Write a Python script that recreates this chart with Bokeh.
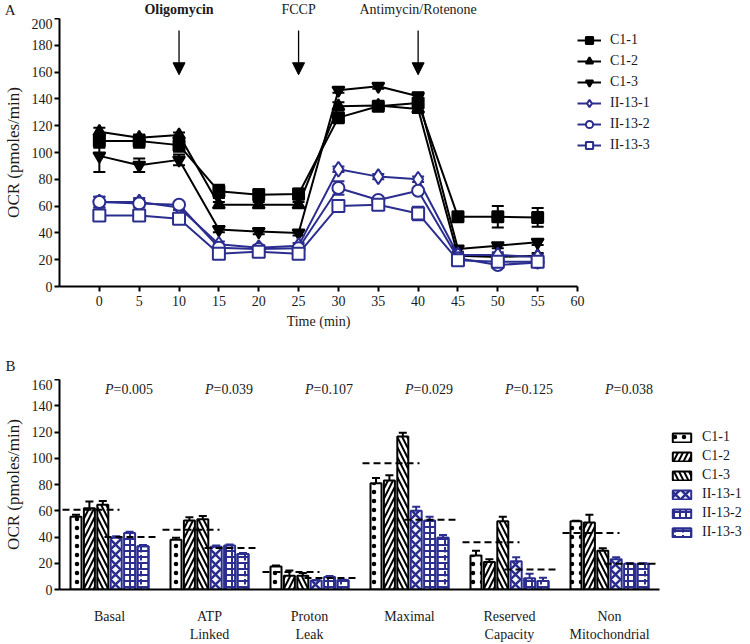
from bokeh.plotting import figure
from bokeh.models import (Range1d, FixedTicker, Legend, LegendItem, Whisker, TeeHead,
                          Arrow, NormalHead, ColumnDataSource)
from bokeh.layouts import column
from bokeh.embed import file_html
from bokeh.resources import INLINE
from bokeh.core.properties import value

FONT = "Liberation Serif"
BLUE = "#2b2e8e"
TXT = "#1a1a1a"

# ---------------- Panel A data ----------------
time_min = [0, 5, 10, 15, 20, 25, 30, 35, 40, 45, 50, 55]
series_names = ["C1-1", "C1-2", "C1-3", "II-13-1", "II-13-2", "II-13-3"]
ocr_c1_1 = [108.5, 108.5, 105.5, 71, 68.5, 69, 126, 134.5, 137, 52, 52, 51.5]
ocr_c1_2 = [115.5, 111, 113, 61, 61, 61, 134.5, 135, 132.5, 23, 22, 23]
ocr_c1_3 = [97.5, 90.5, 94.5, 42.5, 41, 40, 146.5, 149.5, 142, 28, 30.5, 33]
ocr_ii_1 = [63, 63, 59, 31.5, 29, 30.5, 87.5, 82, 80, 23.5, 23.5, 22]
ocr_ii_2 = [63, 62, 61, 29, 28, 28.5, 73.5, 64.5, 71.5, 21, 16, 18]
ocr_ii_3 = [53, 53, 50.5, 24.5, 26, 24.5, 60, 61, 54.5, 19.5, 18.5, 18.5]
err_c1_1 = [5, 5, 5, 5, 4, 4, 3, 2, 6, 3, 8, 7]
err_c1_2 = [3, 2, 2, 2, 2, 2, 3, 2, 3, 2, 2, 2]
err_c1_3 = [12, 5, 4, 2, 2, 2, 2, 2, 3, 2, 2, 2]
err_ii_1 = [4, 3, 2, 2, 2, 2, 2, 2, 2, 2, 2, 2]
err_ii_2 = [4, 3, 2, 2, 2, 2, 5, 2, 2, 2, 2, 2]
err_ii_3 = [2, 2, 2, 4, 2, 2, 3, 2, 5, 2, 2, 2]
injection_times = [10, 25, 40]
injection_labels = ["Oligomycin", "FCCP", "Antimycin/Rotenone"]
injection_styles = ["bold", "normal", "normal"]

# ---------------- Panel B data ----------------
categories = ["Basal", "ATP\nLinked", "Proton\nLeak", "Maximal", "Reserved\nCapacity", "Non\nMitochondrial"]
bar_c1_1 = [55.5, 38, 17.5, 81, 26, 52]
bar_c1_2 = [62, 52.5, 10.5, 83, 21, 51]
bar_c1_3 = [64.5, 53.5, 10.5, 116.5, 52, 29.5]
bar_ii_1 = [39.5, 32.5, 6.8, 60, 21.5, 23]
bar_ii_2 = [43, 33.5, 9.5, 52.5, 8.5, 19.7]
bar_ii_3 = [33, 27, 7, 39.5, 6.5, 19.7]
berr_c1_1 = [1.5, 1.5, 0.8, 4, 3.5, 0.3]
berr_c1_2 = [5, 2.5, 4, 4, 2, 6]
berr_c1_3 = [3, 2.5, 2, 3, 3.5, 2]
berr_ii_1 = [1, 1, 0.5, 3, 3, 1.5]
berr_ii_2 = [1, 0.8, 0.8, 3, 3.5, 0.5]
berr_ii_3 = [1, 0.8, 0.5, 2, 2.5, 0.3]
ctrl_mean = [60.8, 45.6, 13.4, 96.2, 36, 43]
ii_mean = [40, 31.6, 8.8, 53.2, 15.2, 19.7]
p_values = ["0.005", "0.039", "0.107", "0.029", "0.125", "0.038"]
panel_letters = ["A", "B"]

LEFT = 56          # left border (room for y axis)
A_FW, A_FH = 518, 268
B_FW, B_FH = 600, 210


def style_axis(ax, tick_out=5):
    ax.axis_line_width = 2
    ax.axis_line_color = "black"
    ax.major_tick_line_width = 2
    ax.major_tick_in = 0
    ax.major_tick_out = tick_out
    ax.minor_tick_line_color = None
    ax.major_label_text_font = FONT
    ax.major_label_text_font_size = "14px"
    ax.major_label_text_color = TXT
    ax.axis_label_text_font = FONT
    ax.axis_label_text_font_style = "normal"
    ax.axis_label_text_color = TXT


def header(fw, fh, xr, yr, letter, letter_y):
    """Strip above a panel; the panel letter is drawn as the single y tick label."""
    h = figure(frame_width=fw, frame_height=fh, x_range=xr, y_range=yr,
               x_axis_location=None, y_axis_location="left",
               output_backend="svg", toolbar_location=None,
               min_border_left=LEFT, min_border_right=0,
               min_border_top=0, min_border_bottom=0)
    h.outline_line_color = None
    h.xgrid.visible = False
    h.ygrid.visible = False
    ax = h.yaxis[0]
    ax.axis_line_color = None
    ax.major_tick_line_color = None
    ax.minor_tick_line_color = None
    ax.ticker = FixedTicker(ticks=[letter_y])
    ax.major_label_overrides = {letter_y: letter}
    ax.major_label_standoff = 38
    ax.major_label_text_font = FONT
    ax.major_label_text_font_size = "15px"
    ax.major_label_text_color = TXT
    return h


# ================= Header A (panel letter + injection labels) =================
hdrA = header(A_FW, 18, Range1d(-5, 60), Range1d(0, 1), panel_letters[0], 0.5)
hdrA.text(x=injection_times, y=[0.5] * len(injection_times), text=injection_labels,
          text_font=value(FONT), text_font_size="14px", text_font_style=injection_styles,
          text_align="center", text_baseline="middle", text_color=TXT)

# ================= Panel A =================
pA = figure(frame_width=A_FW, frame_height=A_FH, x_range=Range1d(-5, 60),
            y_range=Range1d(0, 200), output_backend="svg", toolbar_location=None,
            min_border_left=LEFT, min_border_top=0, min_border_bottom=43, min_border_right=0)
pA.outline_line_color = None
pA.xgrid.visible = False
pA.ygrid.visible = False
style_axis(pA.xaxis[0])
style_axis(pA.yaxis[0])
pA.xaxis.ticker = FixedTicker(ticks=list(range(0, 61, 5)))
pA.yaxis.ticker = FixedTicker(ticks=list(range(0, 201, 20)))
pA.xaxis.axis_label = "Time (min)"
pA.xaxis.axis_label_text_font_size = "14px"
pA.xaxis.axis_label_standoff = 5
pA.xaxis.major_label_standoff = 4
pA.yaxis.axis_label = "OCR (pmoles/min)"
pA.yaxis.axis_label_text_font_size = "17px"
pA.yaxis.axis_label_standoff = 6
pA.yaxis.major_label_standoff = 2

a_vals = [ocr_c1_1, ocr_c1_2, ocr_c1_3, ocr_ii_1, ocr_ii_2, ocr_ii_3]
a_errs = [err_c1_1, err_c1_2, err_c1_3, err_ii_1, err_ii_2, err_ii_3]
a_styles = [("square", "black", "black", 11), ("triangle", "black", "black", 12),
            ("inverted_triangle", "black", "black", 12), ("diamond", BLUE, "white", 15),
            ("circle", BLUE, "white", 12), ("square", BLUE, "white", 12)]

legA_items = []
for name, vals, errs, (mk, col, fill, sz) in zip(series_names, a_vals, a_errs, a_styles):
    src = ColumnDataSource(dict(t=time_min, v=vals,
                                lo=[v - e for v, e in zip(vals, errs)],
                                hi=[v + e for v, e in zip(vals, errs)]))
    ln = pA.line("t", "v", source=src, line_color=col, line_width=2)
    wk = Whisker(source=src, base="t", lower="lo", upper="hi", dimension="height",
                 line_color=col, line_width=2,
                 lower_head=TeeHead(size=12, line_color=col, line_width=2),
                 upper_head=TeeHead(size=12, line_color=col, line_width=2))
    pA.add_layout(wk)
    sc = pA.scatter("t", "v", source=src, marker=mk, size=sz, line_color=col,
                    fill_color=fill, line_width=2)
    legA_items.append(LegendItem(label=name, renderers=[ln, sc]))

for t in injection_times:
    pA.add_layout(Arrow(x_start=t, y_start=191, x_end=t, y_end=158, line_width=1.3,
                        line_color="black",
                        end=NormalHead(size=12, fill_color="black", line_color="black")))

legA = Legend(items=legA_items, location=(0, 132), orientation="vertical",
              glyph_width=24, glyph_height=18, label_height=18, spacing=3,
              padding=0, margin=0, label_standoff=9,
              border_line_color=None, background_fill_alpha=0,
              label_text_font=FONT, label_text_font_size="14px", label_text_color=TXT)
pA.add_layout(legA, "right")

# ================= Header B (panel letter) =================
hdrB = header(B_FW, 48, Range1d(0.5, 6.5), Range1d(0, 48), panel_letters[1], 14)

# ================= Panel B =================
pB = figure(frame_width=B_FW, frame_height=B_FH, x_range=Range1d(0.5, 6.5),
            y_range=Range1d(0, 160), output_backend="svg", toolbar_location=None,
            min_border_left=LEFT, min_border_top=0, min_border_bottom=52, min_border_right=0)
pB.outline_line_color = None
pB.xgrid.visible = False
pB.ygrid.visible = False
style_axis(pB.xaxis[0])
style_axis(pB.yaxis[0])
pB.xaxis.ticker = FixedTicker(ticks=[1, 2, 3, 4, 5, 6])
pB.xaxis.major_label_overrides = {i + 1: c for i, c in enumerate(categories)}
pB.xaxis.major_tick_line_color = None
pB.xaxis.major_label_standoff = 14
pB.yaxis.ticker = FixedTicker(ticks=list(range(0, 161, 20)))
pB.yaxis.axis_label = "OCR (pmoles/min)"
pB.yaxis.axis_label_text_font_size = "17px"
pB.yaxis.axis_label_standoff = 6
pB.yaxis.major_label_standoff = 2

BAR_STEP = 0.134
BAR_W = 0.11
groups = list(range(1, len(categories) + 1))
b_vals = [bar_c1_1, bar_c1_2, bar_c1_3, bar_ii_1, bar_ii_2, bar_ii_3]
b_errs = [berr_c1_1, berr_c1_2, berr_c1_3, berr_ii_1, berr_ii_2, berr_ii_3]
b_styles = [
    ("black", [("dot", 9, 0.6)]),
    ("black", [("right_diagonal_line", 10, 2.0)]),
    ("black", [("left_diagonal_line", 10, 2.0)]),
    (BLUE, [("diagonal_cross", 10, 2.5)]),
    (BLUE, [("cross", 6, 2.0)]),
    (BLUE, [("horizontal_line", 6, 2.0), ("vertical_dash", 8, 2.0)]),
]

legB_items = []
for k, (name, vals, errs, (col, hatches)) in enumerate(zip(series_names, b_vals, b_errs, b_styles)):
    xs = [g + (k - 2.5) * BAR_STEP for g in groups]
    src = ColumnDataSource(dict(x=xs, v=vals, hi=[v + e for v, e in zip(vals, errs)]))
    wk = Whisker(source=src, base="x", lower="v", upper="hi", dimension="height",
                 line_color=col, line_width=2, lower_head=None,
                 upper_head=TeeHead(size=8, line_color=col, line_width=2), level="underlay")
    pB.add_layout(wk)
    rends = []
    for j, (pat, scale, weight) in enumerate(hatches):
        r = pB.vbar(x="x", top="v", width=BAR_W, source=src,
                    fill_color="white", fill_alpha=1.0 if j == 0 else 0.0,
                    line_color=col, line_width=2,
                    hatch_pattern=pat, hatch_color=col, hatch_scale=scale, hatch_weight=weight)
        rends.append(r)
    legB_items.append(LegendItem(label=name, renderers=rends))

pB.segment(x0=[g - 0.47 for g in groups], x1=[g + 0.10 for g in groups], y0=ctrl_mean, y1=ctrl_mean,
           line_color="black", line_width=2, line_dash="7 4")
pB.segment(x0=[g - 0.05 for g in groups], x1=[g + 0.48 for g in groups], y0=ii_mean, y1=ii_mean,
           line_color="black", line_width=2, line_dash="7 4")

P_Y = 152.4
pB.text(x=[g + 0.04 for g in groups], y=[P_Y] * len(groups), text=["P"] * len(groups),
        text_font=value(FONT), text_font_style="italic", text_font_size="14px",
        text_align="right", text_baseline="middle", text_color=TXT)
pB.text(x=[g + 0.04 for g in groups], y=[P_Y] * len(groups), text=["=" + p for p in p_values],
        text_font=value(FONT), text_font_size="14px",
        text_align="left", text_baseline="middle", text_color=TXT)

legB = Legend(items=legB_items, location=(11, 49), orientation="vertical",
              glyph_width=23, glyph_height=11, label_height=16, spacing=3,
              padding=0, margin=0, label_standoff=9,
              border_line_color=None, background_fill_alpha=0,
              label_text_font=FONT, label_text_font_size="14px", label_text_color=TXT)
pB.add_layout(legB, "right")

layout = column(hdrA, pA, hdrB, pB)
open("out.html", "w").write(file_html(layout, INLINE))
